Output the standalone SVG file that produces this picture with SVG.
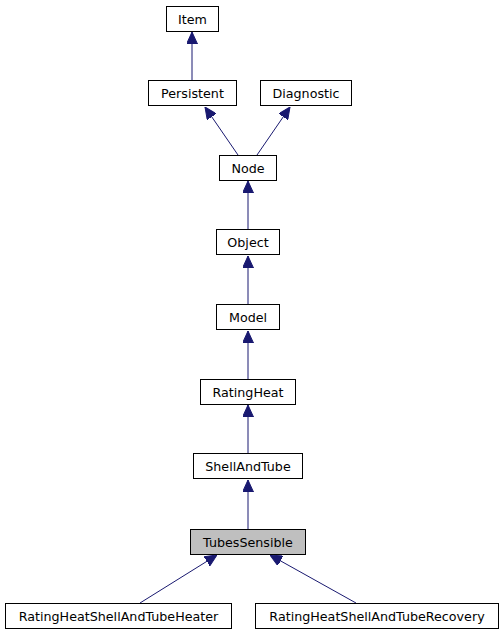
<svg xmlns="http://www.w3.org/2000/svg" width="504" height="635" viewBox="0 0 504 635">
<style>
.box{fill:#ffffff;stroke:#000000;stroke-width:1}
.cur{fill:#bfbfbf;stroke:#000000;stroke-width:1}
text{font-family:"DejaVu Sans",sans-serif;font-size:12.7px;text-anchor:middle;fill:#000000}
.e{stroke:#191970;stroke-width:1;fill:none;marker-end:url(#arr)}
</style>
<defs>
<marker id="arr" markerUnits="userSpaceOnUse" viewBox="0 0 12 11" refX="12" refY="5.5" markerWidth="12" markerHeight="11" orient="auto">
<path d="M0,0 L12,5.5 L0,11 z" fill="#191970" stroke="#191970"/>
</marker>
</defs>
<g id="connectors">
<line class="e" x1="192" y1="80" x2="192" y2="32"/>
<line class="e" x1="238" y1="155" x2="205" y2="107"/>
<line class="e" x1="257" y1="155" x2="290" y2="107"/>
<line class="e" x1="248" y1="229" x2="248" y2="181"/>
<line class="e" x1="248" y1="304" x2="248" y2="256"/>
<line class="e" x1="248" y1="379" x2="248" y2="331"/>
<line class="e" x1="248" y1="453" x2="248" y2="405"/>
<line class="e" x1="248" y1="529" x2="248" y2="480"/>
<line class="e" x1="140" y1="603" x2="217" y2="555"/>
<line class="e" x1="356" y1="603" x2="270" y2="555"/>
</g>
<g id="Item"><rect class="box" x="166.5" y="6.5" width="52" height="25"/><text x="192.5" y="23.5">Item</text></g>
<g id="Persistent"><rect class="box" x="148.5" y="80.5" width="88" height="25"/><text x="192.5" y="97.5">Persistent</text></g>
<g id="Diagnostic"><rect class="box" x="260.5" y="80.5" width="91" height="25"/><text x="306" y="97.5">Diagnostic</text></g>
<g id="Node"><rect class="box" x="219.5" y="155.5" width="57" height="25"/><text x="248" y="172.5">Node</text></g>
<g id="Object"><rect class="box" x="216.5" y="229.5" width="63" height="25"/><text x="248" y="246.5">Object</text></g>
<g id="Model"><rect class="box" x="216.5" y="304.5" width="63" height="25"/><text x="248" y="321.5">Model</text></g>
<g id="RatingHeat"><rect class="box" x="200.5" y="379.5" width="95" height="25"/><text x="248" y="396.5">RatingHeat</text></g>
<g id="ShellAndTube"><rect class="box" x="193.5" y="453.5" width="109" height="25"/><text x="248" y="470.5">ShellAndTube</text></g>
<g id="TubesSensible"><rect class="cur" x="190.5" y="529.5" width="115" height="25"/><text x="248" y="546.5">TubesSensible</text></g>
<g id="RatingHeatShellAndTubeHeater"><rect class="box" x="5.5" y="603.5" width="226" height="25"/><text x="118.5" y="620.5">RatingHeatShellAndTubeHeater</text></g>
<g id="RatingHeatShellAndTubeRecovery"><rect class="box" x="255.5" y="603.5" width="243" height="25"/><text x="377" y="620.5">RatingHeatShellAndTubeRecovery</text></g>
</svg>
